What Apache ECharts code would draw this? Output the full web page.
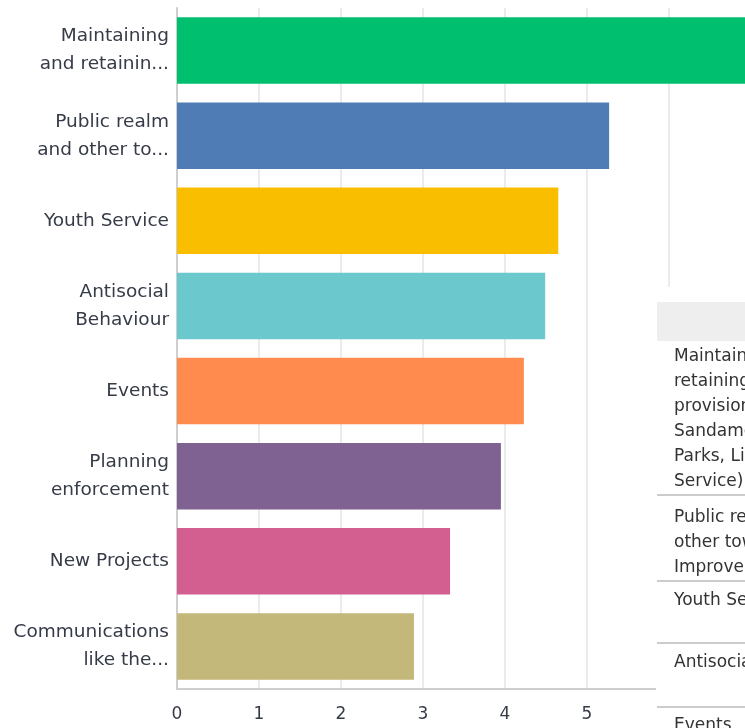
<!DOCTYPE html>
<html>
<head>
<meta charset="utf-8">
<script src="https://cdn.jsdelivr.net/npm/echarts@6/dist/echarts.min.js"></script>
<style>
  html, body { margin: 0; padding: 0; background: #fff; overflow: hidden; width: 745px; height: 728px; }
  #chart { width: 900px; height: 728px; }
</style>
</head>
<body>
<div id="chart"></div>
<script>
// Answer categories (as shown on the axis) and average ranking scores
const categories = [
  'Maintaining\nand retainin...',
  'Public realm\nand other to...',
  'Youth Service',
  'Antisocial\nBehaviour',
  'Events',
  'Planning\nenforcement',
  'New Projects',
  'Communications\nlike the...'
];
const scores = [7.3, 5.27, 4.65, 4.49, 4.23, 3.95, 3.33, 2.89];
const barColors = ['#00bf6f', '#507cb6', '#f9be00', '#6bc8cd', '#ff8b4f', '#7f6192', '#d25f90', '#c4b77a'];

// Rows of the summary table beside the chart
const tableRows = [
  ['Maintaining and', 'retaining the', 'provision of', 'Sandamere', 'Parks, Library', 'Service)'],
  ['Public realm and', 'other town', 'Improvements'],
  ['Youth Service'],
  ['Antisocial Behaviour'],
  ['Events']
];

const chart = echarts.init(document.getElementById('chart'), null, { renderer: 'canvas' });

const labelFont = 'DejaVu Sans';
const textColor = '#363b48';

// Table graphics: white panel, grey header, row separators and row text
const tableX = 656, tableTop = 287;
const rowStarts = [344, 505, 588, 650, 713];
const separators = [495, 581, 643, 707];
const graphics = [
  { type: 'rect', shape: { x: tableX, y: tableTop, width: 300, height: 500 }, style: { fill: '#ffffff' }, z: 100 },
  { type: 'rect', shape: { x: tableX + 1, y: 302, width: 300, height: 39 }, style: { fill: '#eeeeee' }, z: 101 }
];
separators.forEach(y => {
  graphics.push({ type: 'line', shape: { x1: tableX + 1, y1: y, x2: 950, y2: y }, style: { stroke: '#cccccc', lineWidth: 2 }, z: 101 });
});
tableRows.forEach((lines, i) => {
  graphics.push({
    type: 'text', z: 102,
    style: {
      x: 674, y: rowStarts[i], text: lines.join('\n'),
      font: '17px "DejaVu Sans"', fill: '#333333', lineHeight: 25, verticalAlign: 'top'
    }
  });
});

chart.setOption({
  animation: false,
  backgroundColor: '#ffffff',
  grid: { left: 177, top: 8, width: 656, height: 681, containLabel: false },
  xAxis: {
    type: 'value', min: 0, max: 8, interval: 1,
    axisLine: { show: true, lineStyle: { color: '#cfcfcf', width: 2 } },
    axisTick: { show: false },
    splitLine: { show: true, lineStyle: { color: '#e4e4e4', width: 1.5 } },
    axisLabel: { color: textColor, fontFamily: labelFont, fontSize: 17, margin: 17 }
  },
  yAxis: {
    type: 'category', inverse: true, data: categories,
    axisLine: { show: true, lineStyle: { color: '#cfcfcf', width: 2 } },
    axisTick: { show: false },
    axisLabel: { color: textColor, fontFamily: labelFont, fontSize: 18.5, lineHeight: 28, margin: 8, align: 'right' }
  },
  series: [{
    type: 'bar',
    barCategoryGap: '22%',
    data: scores.map((v, i) => ({ value: v, itemStyle: { color: barColors[i] } })),
    clip: true
  }],
  graphic: graphics
});
</script>
</body>
</html>
